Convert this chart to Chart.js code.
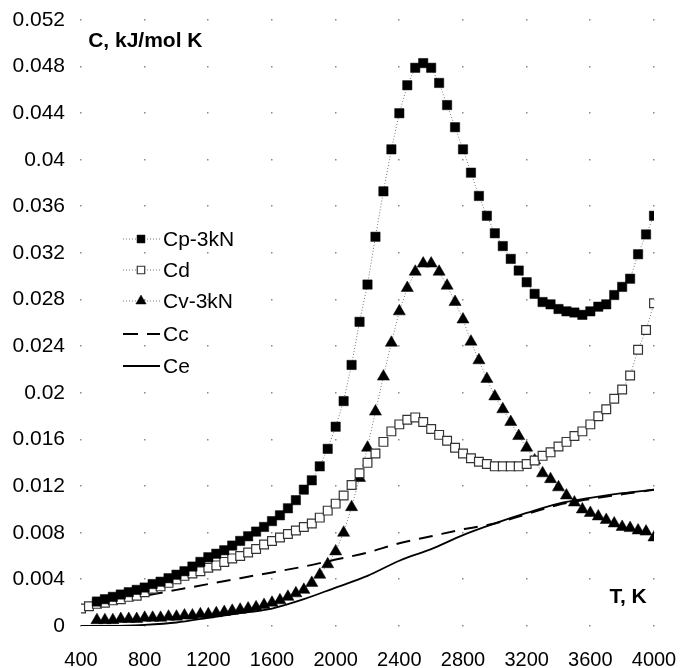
<!DOCTYPE html>
<html>
<head>
<meta charset="utf-8">
<script src="https://cdn.jsdelivr.net/npm/chart.js@4.4.1/dist/chart.umd.min.js"></script>
<style>
  html, body { margin: 0; padding: 0; background: #fff; }
</style>
</head>
<body>
<canvas id="heat-chart" width="681" height="668"></canvas>
<script>
'use strict'

// temperatures of the marker series, K
const temps = [
  400, 450, 500, 550, 600, 650, 700, 750, 800, 850,
  900, 950, 1000, 1050, 1100, 1150, 1200, 1250, 1300, 1350,
  1400, 1450, 1500, 1550, 1600, 1650, 1700, 1750, 1800, 1850,
  1900, 1950, 2000, 2050, 2100, 2150, 2200, 2250, 2300, 2350,
  2400, 2450, 2500, 2550, 2600, 2650, 2700, 2750, 2800, 2850,
  2900, 2950, 3000, 3050, 3100, 3150, 3200, 3250, 3300, 3350,
  3400, 3450, 3500, 3550, 3600, 3650, 3700, 3750, 3800, 3850,
  3900, 3950, 4000
];

const cp3kN = [
  null, null, 0.0021, 0.0023, 0.0025, 0.0027, 0.0029, 0.0031, 0.0033, 0.0036,
  0.0038, 0.0041, 0.0044, 0.0047, 0.0051, 0.0055, 0.0059, 0.0062, 0.0065, 0.0069,
  0.0073, 0.0077, 0.0081, 0.0085, 0.0090, 0.0095, 0.0101, 0.0108, 0.0117, 0.0125,
  0.0137, 0.0152, 0.0171, 0.0193, 0.0224, 0.0261, 0.0293, 0.0334, 0.0373, 0.0409,
  0.0440, 0.0464, 0.0479, 0.0483, 0.0479, 0.0466, 0.0447, 0.0428, 0.0409, 0.0389,
  0.0369, 0.0352, 0.0337, 0.0326, 0.0315, 0.0305, 0.0295, 0.0285, 0.0278, 0.0276,
  0.0272, 0.0270, 0.0269, 0.0267, 0.0270, 0.0274, 0.0276, 0.0284, 0.0291, 0.0298,
  0.0319, 0.0336, 0.0352
];

const cd = [
  0.0015, 0.0017, 0.0019, 0.0020, 0.0022, 0.0023, 0.0025, 0.0026, 0.0029, 0.0032,
  0.0034, 0.0037, 0.0040, 0.0043, 0.0045, 0.0047, 0.0050, 0.0052, 0.0055, 0.0058,
  0.0060, 0.0063, 0.0066, 0.0070, 0.0073, 0.0076, 0.0079, 0.0082, 0.0085, 0.0088,
  0.0093, 0.0099, 0.0105, 0.0112, 0.0121, 0.0131, 0.0140, 0.0148, 0.0158, 0.0167,
  0.0173, 0.0177, 0.0179, 0.0175, 0.0169, 0.0164, 0.0159, 0.0153, 0.0148, 0.0144,
  0.0141, 0.0139, 0.0137, 0.0137, 0.0137, 0.0137, 0.0139, 0.0142, 0.0146, 0.0149,
  0.0154, 0.0158, 0.0163, 0.0167, 0.0173, 0.0180, 0.0186, 0.0195, 0.0203, 0.0215,
  0.0237, 0.0254, 0.0277
];

const cv3kN = [
  null, null, 0.0005, 0.0005, 0.0005, 0.0006, 0.0006, 0.0006, 0.0007, 0.0007,
  0.0007, 0.0008, 0.0008, 0.0009, 0.0009, 0.0010, 0.0010, 0.0011, 0.0012, 0.0013,
  0.0014, 0.0015, 0.0016, 0.0018, 0.0020, 0.0022, 0.0025, 0.0028, 0.0031, 0.0037,
  0.0044, 0.0053, 0.0064, 0.0080, 0.0102, 0.0127, 0.0153, 0.0184, 0.0214, 0.0243,
  0.0270, 0.0290, 0.0304, 0.0311, 0.0311, 0.0304, 0.0292, 0.0278, 0.0263, 0.0244,
  0.0228, 0.0212, 0.0197, 0.0186, 0.0175, 0.0163, 0.0153, 0.0142, 0.0131, 0.0126,
  0.0119, 0.0112, 0.0106, 0.0100, 0.0097, 0.0094, 0.0091, 0.0088, 0.0085, 0.0084,
  0.0082, 0.0081, 0.0076
];

// temperatures of the smooth curves, K
const lineTemps = [400, 600, 800, 1000, 1200, 1400, 1600, 1800, 2000, 2200,
  2400, 2600, 2800, 3000, 3200, 3400, 3600, 3800, 4000];

const cc = [0.0016, 0.0021, 0.0026, 0.0031, 0.0036, 0.0041, 0.0046, 0.0051, 0.0057, 0.0063,
  0.0071, 0.0077, 0.0083, 0.0088, 0.0096, 0.0104, 0.0109, 0.0113, 0.0117];

const ce = [0.0000, 0.0000, 0.0001, 0.0003, 0.0007, 0.0011, 0.0015, 0.0023, 0.0033, 0.0043,
  0.0056, 0.0066, 0.0078, 0.0088, 0.0097, 0.0105, 0.0110, 0.0114, 0.0117];

const xTicks = [400, 800, 1200, 1600, 2000, 2400, 2800, 3200, 3600, 4000];
const yTicks = [0, 0.004, 0.008, 0.012, 0.016, 0.02, 0.024, 0.028, 0.032, 0.036,
  0.04, 0.044, 0.048, 0.052];

const seriesNames = ['Cp-3kN', 'Cd', 'Cv-3kN', 'Cc', 'Ce'];

const FONT = "'Liberation Sans', Arial, sans-serif";

function pairs(xs, ys) {
  return xs.map((x, i) => ({ x: x, y: ys[i] }));
}

// grid of small dots where the tick lines cross
const dotGrid = {
  id: 'dotGrid',
  beforeDatasetsDraw(chart) {
    const ctx = chart.ctx;
    const sx = chart.scales.x, sy = chart.scales.y;
    ctx.save();
    ctx.fillStyle = '#888';
    xTicks.forEach(t => {
      yTicks.forEach(v => {
        ctx.fillRect(Math.round(sx.getPixelForValue(t)) - 1, Math.round(sy.getPixelForValue(v)) - 1, 1.5, 1.5);
      });
    });
    ctx.restore();
  }
};

// axis captions and legend inside the plot
const captions = {
  id: 'captions',
  afterDraw(chart) {
    const ctx = chart.ctx;
    const sx = chart.scales.x, sy = chart.scales.y;
    ctx.save();
    ctx.fillStyle = '#000';
    ctx.font = 'bold 21px ' + FONT;
    ctx.textBaseline = 'middle';
    ctx.textAlign = 'left';
    ctx.fillText('C, kJ/mol K', sx.getPixelForValue(445), sy.getPixelForValue(0.0502));
    ctx.fillText('T, K', sx.getPixelForValue(3720), sy.getPixelForValue(0.0025));

    // legend
    const sets = chart.data.datasets;
    const x0 = 123, x1 = 160, rowY = [239, 270, 301, 334, 366];
    ctx.font = '21px ' + FONT;
    sets.forEach((ds, i) => {
      const y = rowY[i];
      ctx.save();
      ctx.strokeStyle = ds.borderColor;
      ctx.lineWidth = ds.borderWidth;
      ctx.setLineDash(ds.legendDash || ds.borderDash || []);
      ctx.beginPath();
      ctx.moveTo(x0, y);
      ctx.lineTo(x1, y);
      ctx.stroke();
      ctx.restore();
      if (ds.pointRadius > 0) {
        ctx.save();
        ctx.fillStyle = ds.pointBackgroundColor;
        ctx.strokeStyle = ds.pointBorderColor;
        ctx.lineWidth = ds.pointBorderWidth;
        Chart.helpers.drawPoint(ctx, {
          pointStyle: ds.pointStyle, radius: ds.pointRadius * 0.85, rotation: 0,
          borderWidth: ds.pointBorderWidth
        }, 141, y);
        ctx.restore();
      }
      ctx.fillStyle = '#000';
      ctx.fillText(ds.label, 163, y + 1);
    });
    ctx.restore();
  }
};

const context = document.querySelector('#heat-chart').getContext('2d');
new Chart(context, {
  type: 'line',
  data: {
    datasets: [
      {
        label: seriesNames[0],
        data: pairs(temps, cp3kN),
        borderColor: '#777',
        borderWidth: 1,
        borderDash: [1, 2],
        pointStyle: 'rect',
        pointRadius: 6.6,
        pointBackgroundColor: '#000',
        pointBorderColor: '#000',
        pointBorderWidth: 0.5
      },
      {
        label: seriesNames[1],
        data: pairs(temps, cd),
        borderColor: '#777',
        borderWidth: 1,
        borderDash: [1, 2],
        pointStyle: 'rect',
        pointRadius: 6.2,
        pointBackgroundColor: '#fff',
        pointBorderColor: '#333',
        pointBorderWidth: 1.2
      },
      {
        label: seriesNames[2],
        data: pairs(temps, cv3kN),
        borderColor: '#777',
        borderWidth: 1,
        borderDash: [1, 2],
        pointStyle: 'triangle',
        pointRadius: 7,
        pointBackgroundColor: '#000',
        pointBorderColor: '#000',
        pointBorderWidth: 0.5
      },
      {
        label: seriesNames[3],
        data: pairs(lineTemps, cc),
        borderColor: '#000',
        borderWidth: 2,
        borderDash: [14, 9],
        legendDash: [15, 9],
        pointRadius: 0,
        cubicInterpolationMode: 'monotone'
      },
      {
        label: seriesNames[4],
        data: pairs(lineTemps, ce),
        borderColor: '#000',
        borderWidth: 1.8,
        pointRadius: 0,
        cubicInterpolationMode: 'monotone'
      }
    ]
  },
  options: {
    responsive: false,
    animation: false,
    layout: { padding: { left: 0, right: 27, top: 20, bottom: 0 } },
    plugins: {
      legend: { display: false },
      tooltip: { enabled: false }
    },
    scales: {
      x: {
        type: 'linear',
        min: 400,
        max: 4000,
        afterFit: s => { s.height = 42; s.paddingLeft = 0; s.paddingRight = 0; },
        afterBuildTicks: s => { s.ticks = xTicks.map(v => ({ value: v })); },
        grid: { display: false, drawTicks: false },
        border: { display: false },
        ticks: {
          color: '#000',
          padding: 22,
          maxRotation: 0,
          autoSkip: false,
          font: { size: 20, family: FONT },
          callback: v => String(v)
        }
      },
      y: {
        min: 0,
        max: 0.052,
        afterFit: s => { s.width = 81; s.paddingTop = 0; s.paddingBottom = 0; },
        afterBuildTicks: s => { s.ticks = yTicks.map(v => ({ value: v })); },
        grid: { display: false, drawTicks: false },
        border: { display: false },
        ticks: {
          color: '#000',
          padding: 16,
          autoSkip: false,
          font: { size: 21, family: FONT },
          callback: v => String(+v.toFixed(3))
        }
      }
    }
  },
  plugins: [dotGrid, captions]
});
</script>
</body>
</html>
